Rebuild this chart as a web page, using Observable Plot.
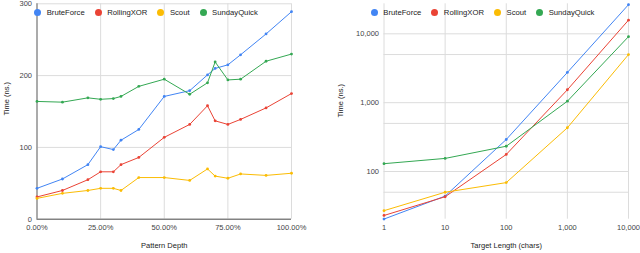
<!DOCTYPE html>
<html><head><meta charset="utf-8">
<script src="https://cdn.jsdelivr.net/npm/d3@7"></script>
<script src="https://cdn.jsdelivr.net/npm/@observablehq/plot@0.6"></script>
<style>
body{margin:0;background:#fff;font-family:"Liberation Sans",Arial,sans-serif;}
#wrap{display:flex;width:640px;height:253px;}
.panel{position:relative;width:320px;height:253px;}
.panel svg{display:block;}
.legend{position:absolute;top:8px;height:9px;display:flex;align-items:center;font-size:7.7px;color:#222;white-space:nowrap;}
.legend .item{display:flex;align-items:center;margin-right:10px;}
.legend .sw{width:7px;height:7px;border-radius:50%;margin-right:5.5px;}
</style></head><body>
<div id="wrap"><div class="panel" id="left"></div><div class="panel" id="right"></div></div>
<script>
// ---- data ----
const seriesNames = ["BruteForce", "RollingXOR", "Scout", "SundayQuick"];
const seriesColors = ["#4285F4", "#EA4335", "#FBBC04", "#34A853"];

// Left: Pattern Depth (fraction)
const depth = [0, 0.10, 0.20, 0.25, 0.30, 0.33, 0.40, 0.50, 0.60, 0.67, 0.70, 0.75, 0.80, 0.90, 1.00];
const depthBrute   = [43, 56, 76, 101, 97, 110, 125, 171, 179, 201, 210, 215, 229, 258, 289];
const depthRolling = [31, 40, 55, 66, 66, 76, 86, 114, 132, 158, 137, 132, 139, 155, 175];
const depthScout   = [29, 36, 40, 43, 43, 40, 58, 58, 54, 70, 60, 57, 63, 61, 64];
const depthSunday  = [164, 163, 169, 167, 168, 171, 185, 195, 174, 190, 219, 194, 195, 220, 230];
const depthTicks = [0, 0.25, 0.5, 0.75, 1];
const depthTimeTicks = [0, 100, 200, 300];

// Right: Target Length (chars)
const lengths = [1, 10, 100, 1000, 10000];
const lenBrute   = [20.4, 44, 292, 2750, 26500];
const lenRolling = [23, 43, 177, 1540, 15800];
const lenScout   = [27, 50, 69, 432, 5000];
const lenSunday  = [130, 155, 233, 1050, 9100];
const lenTicks = [1, 10, 100, 1000, 10000];
const lenTimeTicks = [50, 100, 500, 1000, 5000, 10000];

// ---- helpers ----
function rows(xs, lists) {
  return lists.flatMap((vals, i) => vals.map((v, j) => ({x: xs[j], y: v, s: seriesNames[i]})));
}
const leftData = rows(depth, [depthBrute, depthRolling, depthScout, depthSunday]);
const rightData = rows(lengths, [lenBrute, lenRolling, lenScout, lenSunday]);

const font = "Liberation Sans, Arial, sans-serif";
const gridColor = "#dcdcdc";

function legend(el, left) {
  const div = document.createElement("div");
  div.className = "legend";
  div.style.left = left + "px";
  seriesNames.forEach((n, i) => {
    const it = document.createElement("div");
    it.className = "item";
    const sw = document.createElement("span");
    sw.className = "sw";
    sw.style.background = seriesColors[i];
    const t = document.createElement("span");
    t.textContent = n;
    it.appendChild(sw); it.appendChild(t);
    div.appendChild(it);
  });
  el.appendChild(div);
}

const leftPlot = Plot.plot({
  width: 320, height: 253,
  marginLeft: 36.5, marginRight: 29, marginTop: 3.3, marginBottom: 34.3,
  style: {fontFamily: font, fontSize: "7.5px", color: "#444", background: "transparent"},
  x: {type: "linear", domain: [0, 1], label: null},
  y: {domain: [0, 300], label: null},
  color: {domain: seriesNames, range: seriesColors},
  marks: [
    Plot.gridX(depthTicks, {stroke: gridColor, strokeOpacity: 1}),
    Plot.gridY(depthTimeTicks, {stroke: gridColor, strokeOpacity: 1}),
    Plot.axisX(depthTicks, {tickSize: 0, tickPadding: 5, tickFormat: d3.format(".2%"), label: null}),
    Plot.axisY(depthTimeTicks, {tickSize: 0, tickPadding: 5, label: null}),
    Plot.ruleX([0], {stroke: "#9a9a9a", strokeWidth: 1.6}),
    Plot.ruleY([0], {stroke: "#555", strokeWidth: 1}),
    Plot.line(leftData, {x: "x", y: "y", z: "s", stroke: "s", strokeWidth: 1}),
    Plot.dot(leftData, {x: "x", y: "y", fill: "s", r: 1.4}),
    Plot.text(["Pattern Depth"], {frameAnchor: "bottom", dy: 29, fontSize: 7.5, fill: "#222"}),
    Plot.text(["Time (ns.)"], {frameAnchor: "left", dx: -30, dy: 4, rotate: -90, fontSize: 7.5, fill: "#222"})
  ]
});

const rightPlot = Plot.plot({
  width: 320, height: 253,
  marginLeft: 63.5, marginRight: 12, marginTop: 3.3, marginBottom: 34.3,
  style: {fontFamily: font, fontSize: "7.5px", color: "#444", background: "transparent"},
  x: {type: "log", domain: [1, 10000], label: null},
  y: {type: "log", domain: [20.3, 27300], label: null},
  color: {domain: seriesNames, range: seriesColors},
  marks: [
    Plot.gridX(lenTicks, {stroke: gridColor, strokeOpacity: 1}),
    Plot.gridY(lenTimeTicks, {stroke: gridColor, strokeOpacity: 1}),
    Plot.axisX(lenTicks, {tickSize: 0, tickPadding: 5, tickFormat: d3.format(","), label: null}),
    Plot.axisY(lenTimeTicks, {tickSize: 0, tickPadding: 5, tickFormat: d3.format(","), label: null}),
    Plot.line(rightData, {x: "x", y: "y", z: "s", stroke: "s", strokeWidth: 1}),
    Plot.dot(rightData, {x: "x", y: "y", fill: "s", r: 1.4}),
    Plot.text(["Target Length (chars)"], {frameAnchor: "bottom", dy: 29, fontSize: 7.5, fill: "#222"}),
    Plot.text(["Time (ns.)"], {frameAnchor: "left", dx: -43, dy: 6, rotate: -90, fontSize: 7.5, fill: "#222"})
  ]
});

const L = document.getElementById("left");
const R = document.getElementById("right");
L.appendChild(leftPlot);
R.appendChild(rightPlot);
legend(L, 34.2);
legend(R, 50.8);
</script></body></html>
